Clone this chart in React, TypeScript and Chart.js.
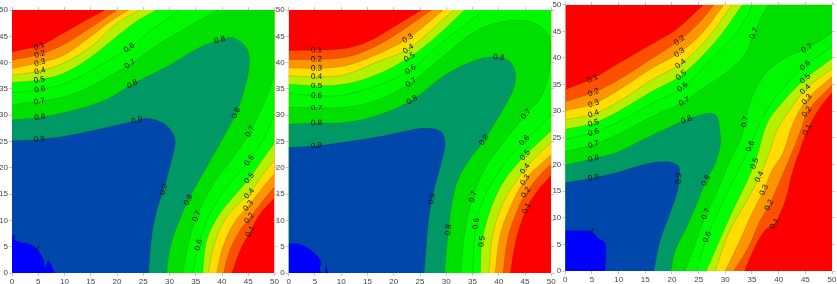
import React, { useEffect, useRef } from "react";
import { Chart, registerables } from "chart.js";

Chart.register(...registerables);

type P = [number, number];

const tickValues = [0, 5, 10, 15, 20, 25, 30, 35, 40, 45, 50];
const levelNames = ["0.1", "0.2", "0.3", "0.4", "0.5", "0.6", "0.7", "0.8", "0.9", "1"];
const bandColors = ["#ff0000", "#ff5000", "#ff9600", "#ffdd00", "#b4f000", "#00ff00", "#00f800", "#00e000", "#009966", "#0047ab", "#0000ff"];

// Panel 1: "a" runs from the left edge to the top edge, "b" from the bottom edge to the right edge
const p1_01a: P[] = [[0, 42], [2.5, 42.6], [5.2, 43.1], [8, 44.6], [11, 46.3], [14, 48], [17.7, 50]];
const p1_01b: P[] = [[41.9, 0], [43.5, 4.4], [45.4, 7.9], [47.3, 11.3], [50, 14.2]];
const p1_02a: P[] = [[0, 40.5], [5.3, 41.6], [10, 43.5], [14, 46], [17, 48], [20, 50]];
const p1_02b: P[] = [[40.3, 0], [41.5, 4.4], [43.5, 8.2], [45.2, 10.4], [47.9, 13.9], [50, 16.4]];
const p1_03a: P[] = [[0, 38.9], [5.3, 40], [10, 41.5], [15, 45], [19, 48], [22.2, 50]];
const p1_03b: P[] = [[39, 0], [40, 4.4], [42.2, 9.4], [45, 12.8], [47.9, 16.4], [50, 18.9]];
const p1_04a: P[] = [[0, 37.6], [5.3, 38.4], [10, 40], [15, 43], [20, 47.5], [24.3, 50]];
const p1_04b: P[] = [[37.4, 0], [38.4, 5], [40.9, 10.7], [45.2, 15.1], [47.9, 18.9], [50, 21.5]];
const p1_05a: P[] = [[0, 36.2], [5.2, 36.7], [10, 38], [15, 41], [20, 45], [24, 48], [27.6, 50]];
const p1_05b: P[] = [[36.3, 0], [37.1, 6.3], [39.6, 11.3], [45.2, 18], [47.9, 21.8], [50, 24.7]];
const p1_06a: P[] = [[0, 34.3], [5.3, 34.9], [10, 36], [15, 38.5], [22.3, 42.8], [27, 46.5], [32, 50]];
const p1_06b: P[] = [[34.4, 0], [35.6, 5.3], [37.1, 10], [40, 15.1], [45.2, 21.4], [48.2, 26], [50, 30]];
const p1_07a: P[] = [[0, 32], [5.2, 32.6], [10, 33.5], [15, 35.5], [22.5, 39.7], [28, 43.5], [33, 46.5], [39.3, 50]];
const p1_07b: P[] = [[32.5, 0], [33.6, 5.6], [35.2, 10.8], [38.4, 17], [42.2, 22.1], [45.4, 26.9], [48.5, 33.5], [50, 37.6]];
const p1_08a: P[] = [[0, 29.1], [5.3, 29.6], [12, 31], [18, 33], [22.9, 35.9], [30, 39.5], [36, 43], [39.6, 44.3], [42.2, 44.7], [44.7, 42.7], [45.2, 39.9], [44.4, 35.4], [42.7, 30.4], [40.3, 25.9], [37.1, 20.2], [34.6, 15.8], [33.6, 13.9], [32.7, 12], [30.7, 6.9], [29.8, 3.1], [29.5, 0]];
const p1_09a: P[] = [[0, 25.2], [5.2, 25.4], [10, 26], [15, 27], [23.8, 29], [25.7, 29.4], [28.8, 28.5], [30.4, 26.9], [31.1, 25], [30.4, 21.5], [28.9, 15.9], [27.6, 12], [26.6, 6.9], [26, 0]];
const p1_10a: P[] = [[0, 6.3], [0.2, 7.2], [0.6, 7], [0.4, 6.4], [1.5, 5.9], [3.1, 5.6], [4.7, 4.6], [6, 2.5], [6.3, 0.9], [6.9, 2.3], [8.2, 0]];

// Panel 2
const p2_01a: P[] = [[0, 42.3], [5.3, 42.4], [10.7, 42.7], [15.1, 44], [19.5, 46.5], [25.3, 50]];
const p2_01b: P[] = [[42.2, 0], [43.3, 6.3], [45.3, 12.3], [47.5, 15.8], [50, 18.6]];
const p2_02a: P[] = [[0, 40.6], [5.3, 40.6], [10.7, 41], [15.7, 42.7], [20.8, 45.6], [27.2, 50]];
const p2_02b: P[] = [[40.8, 0], [41.8, 6.9], [43.7, 12.3], [45.2, 15.3], [48.1, 18.9], [50, 20.7]];
const p2_03a: P[] = [[0, 39], [5.3, 38.9], [10.7, 39.4], [16.4, 41.4], [22.7, 44.6], [29.4, 50]];
const p2_03b: P[] = [[39.3, 0], [40.2, 6.9], [42.1, 12.3], [45, 17.7], [48.1, 20.8], [50, 22.5]];
const p2_04a: P[] = [[0, 37.5], [5.3, 37.3], [10.7, 37.7], [17, 40.2], [22.8, 42.6], [31.4, 50]];
const p2_04b: P[] = [[38.1, 0], [38.9, 7.5], [41.1, 13.9], [45, 19.8], [48.1, 23.1], [50, 24.8]];
const p2_05a: P[] = [[0, 35.9], [5.3, 35.6], [10.7, 35.9], [17, 37.8], [23, 41], [28.4, 45.2], [33.5, 50]];
const p2_05b: P[] = [[36.5, 0], [36.8, 6], [38.6, 12.6], [41.1, 17.7], [45, 22.4], [48.1, 25.3], [50, 27.1]];
const p2_06a: P[] = [[0, 34.2], [5.3, 33.7], [10.7, 33.9], [17, 35.7], [23.2, 38.7], [29.7, 44.3], [37.3, 50]];
const p2_06b: P[] = [[35, 0], [35.7, 9.4], [37.3, 14.5], [41.1, 20.8], [44.9, 25.2], [48.1, 28], [50, 30.5]];
const p2_07a: P[] = [[0, 31.5], [5.3, 31.4], [10.7, 31.5], [17, 32.9], [23.3, 36.2], [29.7, 41.4], [36, 46.2], [42.4, 48], [46.8, 47.5], [49.7, 44.6], [49.7, 39.2], [48.1, 33.5], [45.2, 30.2], [41.1, 25.1], [37.9, 20.8], [35.1, 14.5], [33.5, 7.5], [32.7, 0]];
const p2_08a: P[] = [[0, 28.3], [5.3, 28.5], [10.7, 28.6], [17, 30], [23.5, 32.9], [29.7, 37.6], [36, 40.6], [40, 41], [42.4, 39.9], [43.2, 36.7], [41.8, 32.9], [37.2, 25.3], [33.5, 20.2], [31.6, 15.8], [30.4, 8.2], [29.7, 0]];
const p2_09a: P[] = [[0, 23.9], [5.3, 24.2], [10.7, 24.9], [17, 25.9], [23.3, 27.2], [25.9, 27.5], [29, 26.9], [29.8, 24.6], [29, 20.8], [27.3, 14.1], [26.5, 8.8], [25.8, 0]];
const p2_10a: P[] = [[0, 5.6], [1.8, 5.5], [3.7, 4.7], [5.6, 3.1], [6.2, 1.8], [5.9, 1], [6.3, 0], [6.8, 0], [7.1, 1.4], [7.5, 0]];

// Panel 3
const p3_01a: P[] = [[0, 34.1], [5.1, 36.1], [10, 39], [16, 42.5], [21, 45.5], [25.9, 50]];
const p3_01b: P[] = [[33.6, 0], [35.6, 4.6], [37.5, 7.7], [39.25, 8.9], [41.25, 13.3], [42.7, 19], [44.1, 23], [45.4, 26.5], [47.5, 30.3], [50, 33.5]];
const p3_02a: P[] = [[0, 31.8], [5.3, 33.5], [10, 35.9], [16.25, 39.9], [21.4, 43.3], [25, 46.5], [27.9, 50]];
const p3_02b: P[] = [[31.6, 0], [34.4, 4.6], [36.6, 9.6], [38.25, 12.4], [40, 16.4], [42.7, 22.7], [44.6, 27.7], [45.3, 29.9], [50, 34.9]];
const p3_03a: P[] = [[0, 30.1], [5.3, 31.4], [10, 34], [16.25, 38.1], [21.4, 41], [25.6, 44.6], [29.7, 50]];
const p3_03b: P[] = [[30, 0], [32.5, 5.2], [35, 10.8], [37.25, 15.2], [38.75, 18.9], [40.8, 22.1], [42.7, 27.7], [45.3, 32.2], [50, 36.5]];
const p3_04a: P[] = [[0, 28.4], [5.3, 29.5], [10, 31.8], [16.25, 35.9], [21.6, 38.9], [26.9, 44], [31.25, 50]];
const p3_04b: P[] = [[28.1, 0], [30.6, 7.1], [33.75, 12.7], [36.4, 17.7], [38.4, 22.7], [39.7, 26.5], [42.5, 30.8], [45, 34.1], [50, 38]];
const p3_05a: P[] = [[0, 26.6], [5.3, 27.75], [10, 30], [16.25, 33.7], [21.75, 36.75], [28.1, 43], [33.25, 50]];
const p3_05b: P[] = [[26.4, 0], [28.1, 3.9], [31, 10.5], [35.5, 20.2], [37.8, 27.7], [40.8, 31.8], [45, 36.1], [50, 39.9]];
const p3_06a: P[] = [[0, 24.75], [5.3, 26], [10, 28], [16.25, 31.5], [22, 34.5], [27.7, 40.2], [31.5, 44], [33.7, 47.1], [35, 50]];
const p3_06b: P[] = [[24.6, 0], [26.6, 6.4], [30, 13.9], [32.8, 19.6], [34.7, 23.4], [35.9, 26.5], [37.8, 30.2], [40.8, 34.3], [45, 38.6], [50, 42.1]];
const p3_07a: P[] = [[0, 22.4], [5.3, 23.75], [10, 25.7], [16.25, 29], [22.3, 31.8], [25.3, 34], [29, 36.4], [33.4, 40.2], [35.4, 44.6], [36.8, 47.7], [38.1, 50]];
const p3_07b: P[] = [[22.4, 0], [24.4, 5.2], [26.4, 10.7], [28.5, 15], [30.9, 20.8], [32.8, 24.6], [33.7, 28], [34.6, 31.5], [35.9, 34.6], [37.8, 37.4], [41.5, 40.2], [45.3, 41.8], [50, 44.7]];
const p3_08a: P[] = [[0, 19.9], [5.3, 21.1], [10, 22.4], [14.4, 24.6], [18, 26.3], [22.7, 28.4], [26.9, 29.6], [28.4, 29], [29, 25.9], [29.1, 23.9], [28.1, 20.2], [26.4, 17], [24.4, 12], [22.5, 7.7], [20.6, 3.9], [19.8, 0]];
const p3_09a: P[] = [[0, 16.6], [5.3, 17.5], [10, 18.6], [15.6, 20.2], [19.4, 20.5], [21.3, 19.6], [21.3, 17.4], [21.1, 15.2], [19.4, 10.2], [17.8, 5.8], [16.6, 0]];
const p3_10a: P[] = [[0, 7.6], [3.75, 7.6], [4.9, 7.4], [6.25, 6.1], [7.5, 5.2], [7.5, 0]];

const panel1Contours: P[][][] = [[p1_01a, p1_01b], [p1_02a, p1_02b], [p1_03a, p1_03b], [p1_04a, p1_04b], [p1_05a, p1_05b], [p1_06a, p1_06b], [p1_07a, p1_07b], [p1_08a], [p1_09a], [p1_10a]];
const panel2Contours: P[][][] = [[p2_01a, p2_01b], [p2_02a, p2_02b], [p2_03a, p2_03b], [p2_04a, p2_04b], [p2_05a, p2_05b], [p2_06a, p2_06b], [p2_07a], [p2_08a], [p2_09a], [p2_10a]];
const panel3Contours: P[][][] = [[p3_01a, p3_01b], [p3_02a, p3_02b], [p3_03a, p3_03b], [p3_04a, p3_04b], [p3_05a, p3_05b], [p3_06a, p3_06b], [p3_07a, p3_07b], [p3_08a], [p3_09a], [p3_10a]];

// Contour labels: where each level's label sits along its contour
const panel1Labels: P[][] = [
  [[5.2, 43.1], [45.4, 7.9]],
  [[5.3, 41.6], [45.2, 10.4]],
  [[5.3, 40], [45, 12.8]],
  [[5.3, 38.4], [45.2, 15.1]],
  [[5.2, 36.7], [45.2, 18]],
  [[5.3, 34.9], [22.3, 42.8], [35.6, 5.3], [45.2, 21.4]],
  [[5.2, 32.6], [22.5, 39.7], [35.2, 10.8], [45.4, 26.9]],
  [[5.3, 29.6], [22.9, 35.9], [39.6, 44.3], [42.7, 30.4], [33.6, 13.9]],
  [[5.2, 25.4], [23.8, 29], [28.9, 15.9]],
  [[4.7, 4.6]],
];
const panel2Labels: P[][] = [
  [[5.3, 42.4], [45.3, 12.3]],
  [[5.3, 40.6], [45.2, 15.3]],
  [[5.3, 38.9], [22.7, 44.6], [45, 17.7]],
  [[5.3, 37.3], [22.8, 42.6], [45, 19.8]],
  [[5.3, 35.6], [23, 41], [45, 22.4], [36.8, 6]],
  [[5.3, 33.7], [23.2, 38.7], [44.9, 25.2], [35.7, 9.4]],
  [[5.3, 31.4], [23.3, 36.2], [45.2, 30.2], [35.1, 14.5]],
  [[5.3, 28.5], [23.5, 32.9], [40, 41], [37.2, 25.3], [30.4, 8.2]],
  [[5.3, 24.2], [27.3, 14.1]],
  [],
];
const panel3Labels: P[][] = [
  [[5.1, 36.1], [39.25, 8.9], [45.4, 26.5]],
  [[5.3, 33.5], [21.4, 43.3], [38.25, 12.4], [45.3, 29.9]],
  [[5.3, 31.4], [21.4, 41], [37.25, 15.2], [45.3, 32.2]],
  [[5.3, 29.5], [21.6, 38.9], [36.4, 17.7], [45, 34.1]],
  [[5.3, 27.75], [21.75, 36.75], [35.5, 20.2], [45, 36.1]],
  [[5.3, 26], [22, 34.5], [34.7, 23.4], [26.6, 6.4], [45, 38.6]],
  [[35.4, 44.6], [45.3, 41.8], [22.3, 31.8], [5.3, 23.75], [33.7, 28], [26.4, 10.7]],
  [[22.7, 28.4], [5.3, 21.1], [26.4, 17]],
  [[5.3, 17.5], [21.3, 17.4]],
  [[4.9, 7.4]],
];

const MIN = 0;
const MAX = 50;
const FONT = '"Liberation Sans", Arial, sans-serif';

const toXY = (p: P) => ({ x: p[0], y: p[1] });
const twice = (p: P): P[] => [p, p];

// A closed region "value >= level": the plot edges joined up with that level's contours.
function regionOf(pieces: P[][]): P[] {
  const ring: P[] = [...twice([MIN, MIN])];
  const [a, b] = pieces;
  ring.push(...twice(a[0]), ...a.slice(1, -1), ...twice(a[a.length - 1]));
  if (b) {
    const rev = [...b].reverse();
    ring.push(...twice([MAX, MAX]), ...twice(rev[0]), ...rev.slice(1, -1), ...twice(rev[rev.length - 1]));
  }
  return ring;
}

const regionFill = {
  id: "regionFill",
  beforeDatasetDraw(chart: any, args: any) {
    const ds = chart.data.datasets[args.index];
    if (!ds.isRegion) return;
    const { ctx, chartArea: a } = chart;
    ctx.save();
    ctx.beginPath();
    ctx.rect(a.left, a.top, a.right - a.left, a.bottom - a.top);
    ctx.clip();
    ctx.beginPath();
    args.meta.dataset.path(ctx);
    ctx.closePath();
    ctx.fillStyle = ds.backgroundColor;
    ctx.fill();
    ctx.restore();
  },
};

function makeLabelPlugin(contours: P[][][], labels: P[][]) {
  return {
    id: "contourLabels",
    afterDatasetsDraw(chart: any) {
      const { ctx, scales } = chart;
      ctx.save();
      ctx.font = `8px ${FONT}`;
      ctx.fillStyle = "#111";
      ctx.textAlign = "center";
      ctx.textBaseline = "middle";
      labels.forEach((spots, lv) => {
        spots.forEach((spot) => {
          let best: [P, P] | null = null;
          let bestD = Infinity;
          contours[lv].forEach((line) => {
            line.forEach((q, i) => {
              const d = (q[0] - spot[0]) ** 2 + (q[1] - spot[1]) ** 2;
              if (d < bestD) {
                bestD = d;
                best = [line[Math.max(0, i - 1)], line[Math.min(line.length - 1, i + 1)]];
              }
            });
          });
          const px = (p: P) => [scales.x.getPixelForValue(p[0]), scales.y.getPixelForValue(p[1])];
          const [x0, y0] = px(best![0]);
          const [x1, y1] = px(best![1]);
          let ang = Math.atan2(y1 - y0, x1 - x0);
          if (ang >= Math.PI / 2) ang -= Math.PI;
          if (ang < -Math.PI / 2) ang += Math.PI;
          const [cx, cy] = px(spot);
          ctx.save();
          ctx.translate(cx, cy);
          ctx.rotate(ang);
          ctx.fillText(levelNames[lv], 0, 0);
          ctx.restore();
        });
      });
      ctx.restore();
    },
  };
}

type Box = { left: number; width: number; areaLeft: number; areaRight: number; areaTop: number; areaBottom: number };
const HEIGHT = 284;
const TICK = 3;

function build(canvas: HTMLCanvasElement, box: Box, contours: P[][][], labels: P[][]) {
  const datasets: any[] = [];
  let order = 1000;
  const base = {
    type: "line",
    pointRadius: 0,
    pointHoverRadius: 0,
    tension: 0.35,
    fill: false,
  };
  datasets.push({
    ...base,
    isRegion: true,
    borderWidth: 0,
    tension: 0,
    backgroundColor: bandColors[0],
    order: order--,
    data: ([[MIN, MIN], [MIN, MAX], [MAX, MAX], [MAX, MIN]] as P[]).map(toXY),
  });
  contours.forEach((pieces, i) => {
    datasets.push({
      ...base,
      isRegion: true,
      borderWidth: 0,
      backgroundColor: bandColors[i + 1],
      order: order--,
      data: regionOf(pieces).map(toXY),
    });
    pieces.forEach((piece) => {
      datasets.push({
        ...base,
        borderWidth: 0.6,
        borderColor: "rgba(0,50,0,0.28)",
        order: order--,
        data: piece.map(toXY),
      });
    });
  });

  const fitX = (h: number) => (s: any) => {
    s.height = h;
    s.paddingLeft = 0;
    s.paddingRight = 0;
  };
  const fitY = (w: number) => (s: any) => {
    s.width = w;
    s.paddingTop = 0;
    s.paddingBottom = 0;
  };
  const common = {
    type: "linear",
    min: MIN,
    max: MAX,
    border: { display: false },
    grid: { drawOnChartArea: false, tickLength: TICK, color: "#c4c4c4", tickWidth: 1 },
    afterBuildTicks: (s: any) => {
      s.ticks = tickValues.map((value) => ({ value }));
    },
  };
  const shown = { display: true, padding: 1, autoSkip: false, maxRotation: 0, color: "#444", font: { family: FONT, size: 8 } };

  return new Chart(canvas, {
    type: "line",
    data: { datasets },
    plugins: [regionFill, makeLabelPlugin(contours, labels)],
    options: {
      responsive: false,
      animation: false,
      events: [],
      layout: {
        padding: {
          left: 0,
          top: box.areaTop - TICK,
          right: box.width - box.areaRight - TICK,
          bottom: 0,
        },
      },
      plugins: { legend: { display: false }, tooltip: { enabled: false } },
      scales: {
        x: { ...common, position: "bottom", ticks: shown, afterFit: fitX(HEIGHT - box.areaBottom) },
        y: { ...common, position: "left", ticks: shown, afterFit: fitY(box.areaLeft) },
        x2: { ...common, position: "top", ticks: { display: false }, afterFit: fitX(TICK) },
        y2: { ...common, position: "right", ticks: { display: false }, afterFit: fitY(TICK) },
      },
    },
  } as any);
}

const boxes: Box[] = [
  { left: 0, width: 284, areaLeft: 12, areaRight: 274.5, areaTop: 10, areaBottom: 273 },
  { left: 276, width: 284, areaLeft: 12.7, areaRight: 275.3, areaTop: 10, areaBottom: 273 },
  { left: 553, width: 284, areaLeft: 12.3, areaRight: 279, areaTop: 4.7, areaBottom: 271 },
];

export default function App() {
  const r1 = useRef<HTMLCanvasElement>(null);
  const r2 = useRef<HTMLCanvasElement>(null);
  const r3 = useRef<HTMLCanvasElement>(null);
  useEffect(() => {
    const charts = [
      build(r1.current!, boxes[0], panel1Contours, panel1Labels),
      build(r2.current!, boxes[1], panel2Contours, panel2Labels),
      build(r3.current!, boxes[2], panel3Contours, panel3Labels),
    ];
    return () => charts.forEach((c) => c.destroy());
  }, []);
  const refs = [r1, r2, r3];
  return (
    <div style={{ position: "absolute", left: 0, top: 0, width: 837, height: HEIGHT, overflow: "hidden", background: "#fff", filter: "blur(0.35px)" }}>
      {boxes.map((b, i) => (
        <canvas key={i} ref={refs[i]} width={b.width} height={HEIGHT} style={{ position: "absolute", left: b.left, top: 0, display: "block" }} />
      ))}
    </div>
  );
}
